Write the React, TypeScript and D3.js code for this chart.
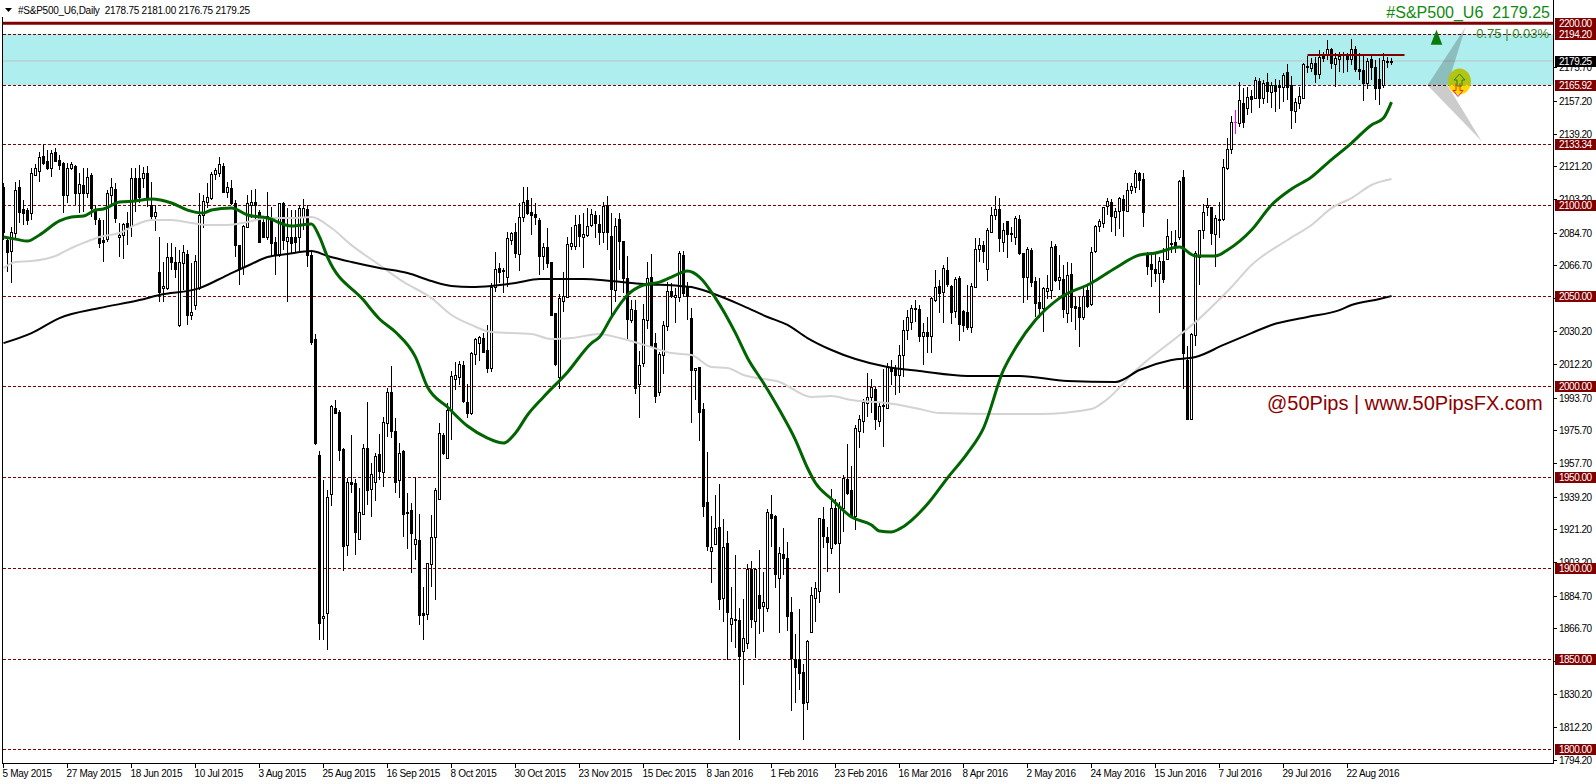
import React from "react";
import * as d3 from "d3";

const opens = [
2109.8,2080.6,2074.5,2084.5,2109.8,2097.7,2097.1,2095.5,2116.4,2118.6,
2126.9,2124.1,2120.3,2129.1,2124.7,2123.0,2105.4,2120.3,2121.4,2106.5,
2110.9,2106.5,2116.4,2097.1,2091.6,2080.6,2081.1,2105.4,2108.7,2082.3,
2083.4,2090.0,2088.3,2114.8,2114.8,2114.8,2117.5,2099.9,2093.8,2063.0,
2054.2,2054.2,2071.2,2068.5,2033.8,2067.9,2072.9,2039.3,2044.8,2054.2,
2094.4,2101.5,2103.7,2117.0,2117.5,2121.4,2107.0,2109.2,2101.0,2077.8,
2065.7,2087.8,2099.9,2101.5,2096.0,2090.5,2082.3,2093.3,2079.5,2072.3,
2101.0,2080.0,2082.3,2082.3,2082.3,2093.3,2097.7,2072.3,2026.0,1962.1,
1872.3,1875.1,1940.6,1988.0,1985.8,1965.4,1912.5,1947.3,1946.7,1915.8,
1929.6,1966.0,1943.4,1947.3,1962.7,1952.8,1979.8,1996.8,1975.3,1948.4,
1964.3,1930.2,1931.8,1913.1,1915.3,1875.1,1874.5,1902.1,1917.0,1937.9,
1973.2,1960.5,1986.9,2004.0,2005.1,2011.7,1991.3,1985.3,2017.8,2023.8,
2026.6,2020.0,2010.1,2054.7,2065.2,2063.5,2060.2,2080.6,2085.0,2072.9,
2093.3,2102.6,2096.0,2094.9,2091.6,2071.8,2076.7,2068.5,2040.4,2005.1,
2047.0,2049.2,2077.3,2077.3,2089.4,2082.3,2083.4,2088.9,2094.4,2089.4,
2085.0,2099.9,2082.8,2053.0,2092.2,2080.0,2059.7,2036.5,2042.0,2001.2,
2012.8,2036.5,2060.2,2023.8,1996.8,2017.2,2033.2,2052.5,2049.2,2049.2,
2072.3,2054.7,2037.6,2009.0,2010.6,1987.5,1936.2,1909.2,1913.1,1922.5,
1883.3,1913.6,1869.0,1871.2,1871.2,1854.1,1858.6,1899.3,1870.7,1885.0,
1878.9,1877.8,1929.6,1928.5,1894.4,1907.6,1905.4,1875.6,1849.7,1849.7,
1842.6,1826.0,1864.6,1883.3,1887.2,1926.8,1916.9,1910.9,1932.9,1913.6,
1932.9,1948.9,1942.8,1928.5,1975.4,1980.9,1990.8,1994.1,1998.5,1980.9,
1989.1,1988.0,2010.1,2009.5,2006.2,2017.2,2031.0,2035.4,2042.6,2042.6,
2027.7,2029.9,2027.7,2047.5,2055.3,2051.9,2064.1,2055.3,2041.5,2059.7,
2041.5,2040.9,2032.7,2054.7,2075.6,2077.8,2064.6,2085.0,2094.4,2097.7,
2079.5,2091.1,2084.5,2082.3,2092.2,2073.4,2060.2,2075.1,2058.0,2046.4,
2043.1,2052.5,2053.0,2077.3,2058.6,2059.1,2040.4,2061.8,2044.2,2043.7,
2038.2,2053.0,2045.3,2074.5,2088.3,2090.0,2099.3,2101.5,2093.3,2096.6,
2103.2,2096.6,2108.1,2109.8,2117.5,2114.2,2072.3,2067.4,2064.6,2062.4,
2069.0,2070.1,2078.4,2079.5,2082.3,2115.3,2014.5,1982.0,2028.2,2071.2,
2086.1,2098.8,2098.8,2083.9,2091.6,2092.2,2120.3,2130.7,2145.1,2145.1,
2156.1,2153.3,2159.9,2158.8,2168.2,2158.8,2167.7,2162.2,2166.0,2166.0,
2164.9,2173.2,2166.0,2151.7,2156.1,2158.8,2176.5,2175.4,2178.1,2172.1,
2182.5,2182.5,2185.8,2177.6,2180.3,2183.1,2182.0,2180.3,2185.8,2174.8,
2174.3,2167.1,2180.3,2175.9,2169.3,2166.0,2179.2,2178.75,
];

const closes = [
2085.0,2074.0,2085.0,2108.1,2096.0,2095.5,2091.6,2117.5,2120.3,2126.3,
2123.0,2120.3,2128.5,2124.1,2121.9,2105.4,2120.3,2122.5,2106.5,2111.5,
2106.5,2115.3,2098.2,2092.2,2078.9,2079.5,2106.5,2109.8,2092.7,2083.4,
2089.4,2087.8,2114.8,2102.6,2104.3,2117.5,2103.7,2093.8,2096.0,2052.0,
2055.3,2071.2,2068.5,2064.6,2068.5,2074.0,2039.3,2040.9,2069.0,2094.4,
2102.1,2104.3,2117.0,2119.2,2122.5,2107.0,2109.8,2101.0,2077.8,2065.2,
2088.3,2101.0,2101.5,2099.9,2079.5,2082.3,2093.8,2078.9,2072.3,2101.0,
2080.6,2082.3,2078.9,2079.5,2098.2,2098.2,2072.3,2024.4,1968.7,1869.6,
1873.4,1939.0,1989.1,1985.3,1964.9,1912.0,1947.3,1946.2,1919.7,1930.7,
1966.0,1942.8,1951.7,1961.6,1953.3,1980.3,1996.8,1975.3,1947.3,1963.2,
1929.6,1930.7,1919.2,1915.8,1874.0,1874.0,1902.6,1917.0,1942.8,1974.3,
1963.2,1986.9,2005.7,2006.2,2012.3,1991.9,1985.3,2018.3,2026.0,2027.1,
2018.9,2010.1,2054.7,2064.6,2063.0,2064.1,2081.7,2084.5,2073.4,2093.3,
2101.5,2095.5,2094.4,2093.3,2071.8,2076.7,2067.9,2039.3,2012.3,2048.6,
2049.7,2078.4,2078.9,2088.9,2082.8,2083.9,2088.3,2094.9,2090.0,2085.0,
2099.3,2085.0,2053.6,2088.3,2080.0,2059.7,2037.1,2042.6,1999.1,2011.7,
2037.1,2059.7,2022.2,1994.6,2017.8,2033.8,2052.5,2049.7,2050.3,2073.4,
2051.4,2049.7,2009.0,2010.1,1985.8,1934.0,1912.0,1911.4,1921.9,1882.8,
1911.4,1875.6,1872.3,1871.8,1851.4,1861.3,1899.3,1871.8,1899.3,1877.8,
1881.1,1930.7,1927.4,1896.6,1908.1,1905.4,1873.4,1850.3,1845.3,1842.0,
1825.5,1859.6,1885.0,1888.9,1927.4,1917.5,1914.2,1932.9,1913.6,1933.5,
1949.5,1941.2,1928.5,1977.0,1982.0,1991.3,1994.1,1999.6,1982.0,1989.1,
1989.7,2011.2,2008.4,2006.2,2017.2,2031.0,2038.2,2043.1,2043.1,2027.7,
2029.9,2027.7,2048.6,2054.7,2051.4,2065.2,2056.4,2040.9,2059.1,2034.3,
2033.8,2032.7,2055.3,2075.6,2077.8,2074.5,2086.1,2094.4,2097.7,2081.7,
2086.1,2083.9,2083.9,2092.7,2073.4,2060.2,2075.6,2057.5,2045.9,2043.1,
2054.2,2054.2,2076.7,2058.6,2060.2,2042.6,2061.3,2043.7,2043.1,2038.2,
2049.7,2044.2,2074.0,2088.3,2091.1,2098.8,2102.1,2093.8,2096.6,2103.7,
2097.1,2108.1,2110.3,2117.5,2113.7,2096.0,2066.3,2064.6,2062.4,2069.0,
2059.1,2082.8,2078.9,2076.7,2113.1,2018.3,1982.0,2028.8,2073.4,2086.1,
2096.0,2099.9,2084.5,2092.7,2092.2,2120.8,2130.7,2145.6,2145.6,2157.7,
2145.6,2159.4,2158.3,2168.8,2158.8,2167.1,2162.7,2166.0,2162.7,2164.9,
2171.5,2164.9,2152.2,2156.6,2159.9,2177.6,2175.9,2178.1,2172.1,2181.4,
2180.9,2185.8,2178.1,2180.9,2182.0,2182.5,2180.3,2185.8,2174.8,2173.7,
2167.1,2179.2,2175.9,2164.4,2164.4,2179.8,2178.7,2179.25,
];

const highs = [
2112.0,2081.7,2087.8,2112.6,2113.7,2102.6,2098.2,2120.3,2122.5,2129.1,
2133.5,2130.2,2130.2,2131.3,2127.4,2123.6,2123.0,2123.6,2121.9,2117.5,
2120.3,2120.3,2117.5,2099.9,2092.7,2091.6,2108.1,2114.8,2112.0,2090.0,
2090.0,2096.0,2120.3,2120.3,2121.9,2120.8,2121.4,2112.6,2099.9,2082.3,
2068.5,2078.9,2078.9,2076.7,2075.1,2077.8,2075.1,2067.9,2072.3,2106.5,
2105.4,2112.0,2118.1,2120.3,2126.3,2123.0,2112.6,2113.7,2102.6,2077.8,
2088.9,2105.4,2108.1,2108.7,2097.1,2093.3,2107.0,2098.8,2082.3,2101.0,
2101.5,2098.2,2097.1,2097.1,2099.3,2103.2,2099.9,2074.0,2028.8,1964.3,
1948.4,1942.8,1989.7,1992.4,1986.9,1966.0,1949.5,1973.2,1948.9,1943.9,
1968.2,1991.3,1957.7,1963.2,1973.7,1983.1,1999.0,2011.2,1982.5,1968.7,
1964.9,1941.2,1935.7,1950.0,1929.6,1889.4,1902.6,1929.1,1943.9,1979.8,
1974.3,1990.8,2008.4,2013.4,2013.9,2013.9,2001.2,2018.9,2026.6,2027.7,
2029.4,2033.8,2056.9,2074.0,2067.9,2065.2,2085.0,2085.0,2090.0,2101.0,
2109.8,2109.8,2103.7,2101.0,2092.7,2078.9,2087.2,2068.5,2040.4,2050.8,
2063.0,2082.3,2087.8,2094.4,2094.4,2095.5,2098.2,2097.7,2096.6,2094.4,
2101.5,2104.8,2095.5,2092.7,2095.5,2080.0,2071.8,2047.5,2047.5,2019.4,
2045.3,2068.5,2072.9,2029.4,2018.9,2036.0,2057.5,2056.9,2054.2,2074.5,
2074.5,2057.5,2043.1,2010.1,2010.6,1990.8,1963.8,1928.5,1940.1,1946.2,
1926.8,1920.3,1889.4,1907.0,1877.8,1882.8,1902.1,1903.7,1899.9,1909.8,
1897.7,1932.4,1940.1,1929.1,1911.4,1921.9,1914.2,1883.9,1863.5,1877.3,
1847.0,1860.2,1889.4,1892.2,1927.4,1933.5,1922.5,1943.4,1937.9,1936.2,
1951.1,1968.2,1956.1,1978.7,1984.2,1993.0,2007.3,2004.0,1999.6,1991.3,
2009.5,2012.8,2014.5,2011.7,2022.7,2036.5,2042.0,2044.8,2047.5,2044.8,
2034.9,2038.2,2049.2,2064.1,2058.6,2066.8,2071.2,2055.8,2060.2,2060.8,
2042.0,2055.8,2056.9,2081.7,2081.7,2080.0,2087.2,2098.8,2104.8,2103.7,
2090.0,2091.1,2087.8,2093.8,2094.4,2073.4,2076.7,2076.2,2060.2,2059.7,
2054.7,2061.3,2080.0,2078.4,2072.3,2066.8,2068.5,2067.9,2049.2,2049.2,
2054.7,2055.8,2076.7,2088.9,2092.2,2098.8,2103.7,2103.2,2098.2,2104.3,
2105.4,2112.0,2112.0,2119.2,2118.1,2117.5,2074.0,2074.0,2073.4,2071.2,
2076.2,2092.2,2085.6,2086.1,2113.7,2119.2,2022.2,2029.4,2074.5,2086.1,
2100.4,2103.7,2098.8,2094.4,2101.5,2125.2,2136.8,2148.9,2152.2,2167.7,
2164.4,2164.9,2163.2,2170.4,2169.9,2168.8,2172.6,2167.7,2169.3,2168.8,
2172.6,2177.6,2170.9,2158.8,2164.9,2178.1,2182.0,2180.9,2181.4,2185.3,
2184.2,2190.8,2186.4,2183.6,2184.2,2184.2,2183.6,2191.4,2187.5,2183.6,
2182.5,2180.9,2182.5,2179.8,2180.9,2183.6,2181.4,2181.0,
];

const lows = [
2080.6,2063.0,2056.9,2080.6,2090.0,2088.9,2088.9,2091.6,2115.9,2112.6,
2121.9,2119.2,2115.3,2123.6,2119.2,2095.5,2101.0,2119.2,2099.9,2095.5,
2096.0,2103.7,2093.3,2088.9,2076.2,2068.5,2079.5,2098.8,2090.0,2071.2,
2070.1,2077.8,2082.3,2096.0,2101.0,2109.2,2098.8,2091.6,2085.6,2046.4,
2046.4,2053.0,2064.1,2059.7,2032.7,2053.0,2033.8,2036.5,2042.0,2053.0,
2087.2,2098.2,2102.6,2113.7,2115.3,2106.5,2103.7,2099.9,2071.2,2055.8,
2061.3,2087.2,2092.7,2091.6,2079.5,2081.7,2080.6,2071.2,2061.3,2071.2,
2075.1,2046.4,2073.4,2074.0,2074.0,2086.1,2065.7,2022.7,1967.6,1860.2,
1860.2,1854.7,1934.0,1985.3,1958.8,1898.2,1906.5,1941.2,1907.0,1915.3,
1929.1,1934.6,1928.0,1936.8,1948.4,1944.5,1972.0,1971.5,1941.2,1938.4,
1916.9,1910.4,1897.1,1904.3,1868.5,1860.2,1871.2,1889.4,1882.2,1937.3,
1962.1,1960.5,1970.4,1997.9,2000.7,1990.8,1982.5,1984.2,2011.7,2013.9,
2018.9,2007.3,2007.9,2051.9,2056.9,2051.4,2054.7,2077.8,2070.7,2063.5,
2090.5,2094.4,2083.4,2088.9,2061.3,2064.1,2065.2,2038.7,2011.2,1998.5,
2040.9,2049.2,2075.1,2075.1,2076.7,2065.2,2082.3,2087.8,2081.7,2077.8,
2078.9,2075.1,2039.3,2046.4,2064.1,2051.4,2025.5,2034.9,1995.7,1982.5,
2010.6,2031.6,2021.6,1990.8,1994.6,2006.8,2030.5,2048.6,2034.9,2046.4,
2049.2,2036.5,1979.8,1992.4,1969.8,1928.0,1909.2,1891.6,1912.5,1876.7,
1870.1,1849.2,1859.1,1855.8,1805.1,1835.4,1855.2,1866.8,1850.3,1863.5,
1864.6,1875.6,1911.4,1888.8,1864.1,1896.0,1865.2,1821.1,1825.5,1832.7,
1805.1,1821.6,1864.1,1870.1,1880.6,1910.9,1897.6,1907.6,1912.5,1886.1,
1919.7,1940.1,1928.0,1920.8,1966.0,1974.3,1983.1,1985.3,1975.9,1977.6,
1966.5,1987.5,2000.7,1995.2,1996.3,2005.1,2025.5,2031.0,2035.4,2024.4,
2011.7,2018.3,2018.3,2046.4,2040.4,2034.9,2054.7,2034.3,2037.6,2025.0,
2029.9,2031.0,2029.4,2054.2,2068.5,2067.9,2058.0,2084.5,2091.6,2074.0,
2074.0,2070.7,2079.5,2077.8,2072.3,2045.9,2047.5,2054.7,2038.2,2037.6,
2029.9,2048.1,2048.1,2057.5,2053.0,2037.6,2034.9,2035.4,2031.0,2021.6,
2036.5,2043.1,2044.2,2073.4,2085.0,2087.2,2094.4,2085.0,2082.8,2086.7,
2082.3,2096.6,2105.9,2106.5,2108.1,2087.8,2061.3,2054.7,2057.5,2040.4,
2056.9,2069.6,2073.4,2073.4,2080.6,1998.5,1981.4,1981.4,2022.2,2055.8,
2081.1,2093.8,2077.8,2065.7,2081.7,2091.1,2119.2,2128.0,2139.0,2142.9,
2142.3,2149.5,2150.6,2158.8,2153.3,2155.5,2156.1,2153.3,2151.1,2152.8,
2156.6,2157.7,2141.8,2145.1,2152.8,2158.8,2172.6,2173.2,2167.1,2169.3,
2178.7,2179.8,2174.8,2164.9,2173.2,2172.6,2173.2,2177.0,2173.2,2168.8,
2157.2,2163.8,2168.8,2157.7,2155.0,2164.4,2175.4,2176.75,
];

const highlightedBar = 308;

const blackBars = [0,7,14,24,34,39,49,56,62,66,71,77,81,87,94,101,107,112,117,122,128,134,145,152,160,169,172,177,185,191,196,201,207,213,221,229,241,254,266,278,284,292,298,305,312,317,326,334,337,344,347];
const blackVals = [2023.8,2029.3,2037.6,2043.1,2047.5,2050.3,2054.1,2061.3,2067.4,2071.2,2072.9,2074.5,2071.8,2068.5,2065.2,2062.4,2058.0,2055.3,2054.7,2055.3,2056.9,2059.1,2059.1,2058.0,2056.4,2055.3,2054.7,2051.4,2044.2,2038.2,2033.8,2026.6,2020.0,2015.0,2010.6,2008.4,2005.7,2005.7,2002.9,2002.4,2009.0,2014.5,2016.1,2022.8,2029.3,2033.8,2038.2,2042.0,2044.8,2048.1,2049.7];

const greenBars = [0,3,6,9,14,17,20,23,25,29,33,37,42,46,50,52,57,61,66,72,77,79,81,90,94,98,103,106,111,116,121,125,128,131,135,141,147,149,152,156,160,164,167,171,174,178,183,186,190,194,198,201,203,207,212,217,219,222,224,231,236,241,245,250,253,258,264,272,278,284,288,294,298,303,306,312,317,322,327,331,337,342,345,347];
const greenVals = [2082.3,2081.1,2080.0,2083.4,2091.1,2093.3,2093.8,2097.1,2097.7,2101.5,2102.1,2103.2,2101.0,2097.1,2095.5,2097.1,2098.2,2094.4,2092.7,2088.3,2089.4,2082.3,2071.2,2047.5,2037.1,2029.9,2016.1,1999.6,1988.6,1978.1,1971.5,1968.7,1974.3,1984.2,1994.1,2007.8,2023.8,2027.1,2038.2,2050.3,2055.8,2057.4,2060.2,2063.5,2060.2,2048.6,2029.3,2015.6,2001.8,1986.9,1970.4,1955.0,1946.7,1937.9,1928.0,1923.6,1920.3,1919.7,1921.4,1935.1,1949.5,1963.2,1977.0,2009.0,2021.1,2036.5,2048.6,2056.9,2065.2,2072.3,2073.4,2076.7,2071.8,2071.8,2075.1,2086.1,2099.9,2108.7,2115.3,2123.0,2134.0,2144.0,2147.8,2156.6];

const grayBars = [0,3,7,13,17,20,24,29,33,37,42,47,51,56,61,66,72,77,82,87,94,100,107,112,117,122,132,137,142,149,154,162,167,172,177,181,185,194,202,207,212,221,229,234,250,259,272,275,284,295,298,302,307,312,321,327,332,337,342,347];
const grayVals = [2065.2,2068.5,2069.0,2071.8,2076.2,2079.0,2082.3,2084.5,2088.9,2091.6,2091.6,2090.0,2088.9,2088.9,2090.5,2092.7,2092.7,2093.3,2087.2,2077.8,2066.8,2057.5,2048.6,2039.3,2033.8,2029.9,2028.8,2026.0,2026.6,2028.8,2026.6,2021.6,2018.3,2017.2,2010.6,2010.1,2006.2,2002.4,1994.1,1994.6,1992.4,1990.8,1987.5,1985.3,1984.7,1984.7,1987.5,1991.3,2010.6,2029.9,2035.4,2043.7,2054.7,2066.8,2080.6,2088.9,2098.2,2103.7,2110.9,2114.2];

const dashedLevels = [2194.2, 2165.92, 2133.34, 2100, 2050, 2000, 1950, 1900, 1850, 1800];
const solidLevel = 2200;
const zoneTop = 2194.2;
const zoneBottom = 2165.92;
const bidPrice = 2179.25;
const resistanceLevel = 2182.5;
const resistanceBars = [326, 350.25];

const priceTicks = ["2175.70","2157.20","2139.20","2121.20","2103.20","2084.70","2066.70","2048.70","2030.20","2012.20","1993.70","1975.70","1957.70","1939.20","1921.20","1903.20","1884.70","1866.70","1848.70","1830.20","1812.20","1794.20"];
const levelLabels = ["2200.00","2194.20","2165.92","2133.34","2100.00","2050.00","2000.00","1950.00","1900.00","1850.00","1800.00"];
const dateLabels = ["5 May 2015","27 May 2015","18 Jun 2015","10 Jul 2015","3 Aug 2015","25 Aug 2015","16 Sep 2015","8 Oct 2015","30 Oct 2015","23 Nov 2015","15 Dec 2015","8 Jan 2016","1 Feb 2016","23 Feb 2016","16 Mar 2016","8 Apr 2016","2 May 2016","24 May 2016","15 Jun 2016","7 Jul 2016","29 Jul 2016","22 Aug 2016"];
const barsPerDateLabel = 16;

const WIDTH = 1596;
const HEIGHT = 784;
const FONT = "'Liberation Sans', Arial, sans-serif";
const MAROON = "#800000";

const x = d3.scaleLinear().domain([0, 1]).range([3.5, 7.5]);
const y = d3.scaleLinear().domain([1800, 2200]).range([749.3, 23.3]);
const py = (v: number) => Math.round(y(v));

function maPath(bars: number[], vals: number[]) {
  const pts = bars.map((b, i) => [x(b), y(vals[i])] as [number, number]);
  return d3.line().curve(d3.curveMonotoneX)(pts) as string;
}

const plotLeft = 2.5;
const plotRight = 1553.5;
const plotBottom = 763.5;

function tri(points: [number, number][]) {
  return points.map(([b, p]) => `${x(b)},${y(p)}`).join(" ");
}

export default function App() {
  const iconX = 1459.5;
  const iconY = 81.5;
  const zoneEdge = y(zoneBottom);
  return (
    <svg
      width={WIDTH}
      height={HEIGHT}
      style={{ position: "fixed", left: 0, top: 0, background: "#fff", display: "block" }}
      fontFamily={FONT}
    >
      <defs>
        <clipPath id="iconUpper"><rect x={iconX - 15} y={iconY - 20} width={30} height={zoneEdge - iconY + 20} /></clipPath>
        <clipPath id="iconLower"><rect x={iconX - 15} y={zoneEdge} width={30} height={30} /></clipPath>
      </defs>
      <rect x={plotLeft} y={y(zoneTop)} width={plotRight - plotLeft} height={y(zoneBottom) - y(zoneTop)} fill="#afeeee" />
      <line x1={plotLeft} x2={plotRight} y1={y(bidPrice)} y2={y(bidPrice)} stroke="#c0c0c0" strokeWidth={1} />
      <line x1={plotLeft} x2={plotRight} y1={y(solidLevel)} y2={y(solidLevel)} stroke={MAROON} strokeWidth={3} />
      {dashedLevels.map((l) => (
        <line
          key={l}
          x1={plotLeft}
          x2={plotRight}
          y1={py(l) + 0.5}
          y2={py(l) + 0.5}
          stroke={MAROON}
          strokeWidth={1}
          strokeDasharray="3,2"
          shapeRendering="crispEdges"
        />
      ))}

      <g shapeRendering="crispEdges">
        {opens.map((o, i) => {
          const c = closes[i];
          const col = i === highlightedBar ? "#ff00ff" : "#000";
          const top = py(Math.max(o, c));
          const bottom = Math.max(py(Math.min(o, c)), top + 1);
          return (
            <g key={i}>
              <line x1={x(i)} x2={x(i)} y1={py(highs[i])} y2={py(lows[i])} stroke={col} />
              {i === highlightedBar ? (
                <line x1={x(i) - 1.5} x2={x(i) + 1.5} y1={top + 0.5} y2={top + 0.5} stroke={col} />
              ) : (
                <rect
                  x={x(i) - 1}
                  y={top + 0.5}
                  width={2}
                  height={bottom - top}
                  fill={c >= o ? "#fff" : "#000"}
                  stroke="#000"
                />
              )}
            </g>
          );
        })}
      </g>

      <path d={maPath(grayBars, grayVals)} fill="none" stroke="#d3d3d3" strokeWidth={2} />
      <path d={maPath(blackBars, blackVals)} fill="none" stroke="#000" strokeWidth={2} />
      <path d={maPath(greenBars, greenVals)} fill="none" stroke="#006400" strokeWidth={3} />

      <line
        x1={x(resistanceBars[0])}
        x2={x(resistanceBars[1])}
        y1={y(resistanceLevel)}
        y2={y(resistanceLevel)}
        stroke={MAROON}
        strokeWidth={2}
      />

      <polygon points={tri([[365.5, 2198], [356, zoneBottom], [361, zoneBottom]])} fill="#000" fillOpacity={0.2} />
      <polygon points={tri([[356, zoneBottom], [361, zoneBottom], [369.5, 2135.1]])} fill="#000" fillOpacity={0.2} />
      <polygon points={tri([[358.25, 2196.4], [356.8, 2188.2], [359.7, 2188.2]])} fill="#0a7a0a" />

      <ellipse cx={iconX} cy={iconY} rx={11.5} ry={13} fill="#b4c414" clipPath="url(#iconUpper)" />
      <ellipse cx={iconX} cy={iconY} rx={11.5} ry={13} fill="#ffd700" clipPath="url(#iconLower)" />
      <path
        d={`M${iconX},${iconY - 7.5} l5.5,6 h-3 v6 h-5 v-6 h-3 Z`}
        fill="none"
        stroke="#1a8a1a"
        strokeWidth={1}
      />
      <path
        d={`M${iconX - 3.5},${iconY + 2} v7 h-3 l5,6 l5,-6 h-3 v-7`}
        fill="none"
        stroke="#ee2222"
        strokeWidth={1}
      />

      <text x={1267} y={410} fontSize={20} fill="#8b0000">@50Pips | www.50PipsFX.com</text>

      <polygon points="5,8 12,8 8.5,12" fill="#000" />
      <text x={18} y={14} fontSize={10} letterSpacing={-0.25} fill="#000" style={{ whiteSpace: "pre" }}>#S&amp;P500_U6,Daily  2178.75 2181.00 2176.75 2179.25</text>

      <text x={1550} y={18} fontSize={16} fill="#108a10" textAnchor="end" style={{ whiteSpace: "pre" }}>#S&amp;P500_U6  2179.25</text>
      <text x={1549} y={37.5} fontSize={13} fill="#2e8b2e" textAnchor="end" style={{ whiteSpace: "pre" }}>0.75 | 0.03%</text>

      <g shapeRendering="crispEdges" stroke="#000">
        <line x1={plotLeft} x2={plotLeft} y1={17} y2={plotBottom} />
        <line x1={plotRight} x2={plotRight} y1={0} y2={plotBottom} />
        <line x1={plotLeft} x2={plotRight} y1={plotBottom} y2={plotBottom} />
        {dateLabels.map((d, i) => (
          <line key={d} x1={x(i * barsPerDateLabel)} x2={x(i * barsPerDateLabel)} y1={plotBottom} y2={plotBottom + 4} />
        ))}
        {priceTicks.map((t) => (
          <line key={t} x1={plotRight} x2={plotRight + 3} y1={py(+t) + 0.5} y2={py(+t) + 0.5} />
        ))}
      </g>

      {dateLabels.map((d, i) => (
        <text key={d} x={x(i * barsPerDateLabel) - 1} y={777} fontSize={10} letterSpacing={-0.3} fill="#000">{d}</text>
      ))}
      {priceTicks.map((t) => (
        <text key={t} x={1559} y={py(+t) + 4} fontSize={10} letterSpacing={-0.5} fill="#000">{t}</text>
      ))}

      {levelLabels.map((l) => (
        <g key={l}>
          <rect x={1555} y={py(+l) - 5} width={41} height={11} fill={MAROON} shapeRendering="crispEdges" />
          <text x={1559} y={py(+l) + 4} fontSize={10} letterSpacing={-0.5} fill="#fff">{l}</text>
        </g>
      ))}
      <rect x={1555} y={py(bidPrice) - 5} width={41} height={11} fill="#000" shapeRendering="crispEdges" />
      <text x={1559} y={py(bidPrice) + 4} fontSize={10} letterSpacing={-0.5} fill="#fff">2179.25</text>
    </svg>
  );
}
